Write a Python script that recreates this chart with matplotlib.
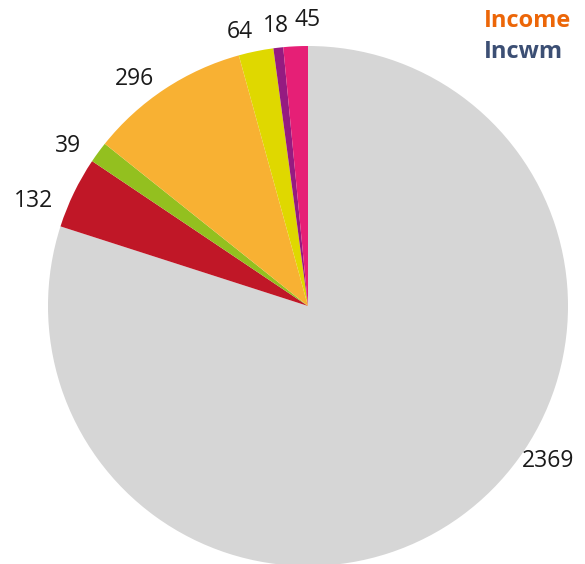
import numpy as np
import matplotlib.pyplot as plt

# slice values, clockwise from the top
values = [2369, 132, 39, 296, 64, 18, 45]
labels = ["2369", "132", "39", "296", "64", "18", "45"]
colors = ["#d6d6d6", "#c01727", "#93c01f", "#f8b133", "#dfd800", "#951b81", "#e61f76"]

legend_names = ["Income", "Incwm"]
legend_colors = ["#ec6608", "#3c4f74"]

# label placement: angular nudge (deg) from the wedge middle, and distance
label_shift = [21, 5, 2.6, 4, 2.4, 0, -2.7]
label_dist = [1.10, 1.13, 1.11, 1.10, 1.085, 1.085, 1.10]

plt.rcParams['font.family'] = ['Open Sans', 'DejaVu Sans']

fig = plt.figure(figsize=(5.85, 5.64), dpi=100)
# square axes centred on the pie
ax = fig.add_axes([48 / 585, -2 / 564, 520 / 585, 520 / 564])
wedges, _ = ax.pie(values, colors=colors, startangle=90, counterclock=False,
                   wedgeprops={"linewidth": 0})

for w, lab, sh, d in zip(wedges, labels, label_shift, label_dist):
    ang = np.deg2rad((w.theta1 + w.theta2) / 2 + sh)
    ax.text(d * np.cos(ang), d * np.sin(ang), lab, fontsize=16.5, color="#1a1a1a",
            ha="center", va="center")

ax.set_xlim(-1, 1)
ax.set_ylim(-1, 1)
ax.set_aspect("equal")
ax.axis("off")

for i, (name, col) in enumerate(zip(legend_names, legend_colors)):
    fig.text(484 / 585, 1 - (21 + 31 * i) / 564, name, color=col, fontsize=17,
             fontweight="bold", ha="left", va="center")

fig.savefig("out.png", dpi=100)
